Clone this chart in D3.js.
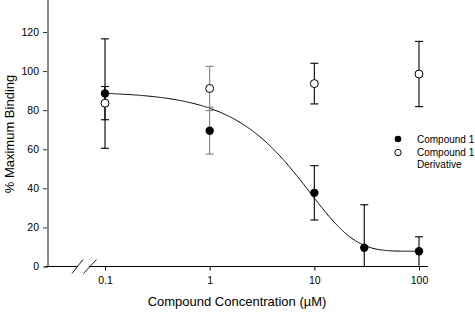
<!DOCTYPE html>
<html><head><meta charset="utf-8">
<script src="https://cdn.jsdelivr.net/npm/d3@7"></script>
<style>body{margin:0;background:#fff}svg{display:block}text{font-family:"Liberation Sans",Arial,sans-serif;fill:#000}</style>
</head><body>
<svg id="c" width="475" height="312"></svg>
<script>
const concentrations = [0.1, 1, 10, 30, 100];
const xTicks = [0.1, 1, 10, 100];
const yTicks = [0, 20, 40, 60, 80, 100, 120];
const cmpd1Mean = [88.5, 69.5, 37.7, 9.6, 7.8];
const cmpd1Err  = [28, 12, 13.9, 22, 7.4];
const derivConc = [0.1, 1, 10, 100];
const derivMean = [83.6, 91.1, 93.6, 98.5];
const derivErr  = [8.5, 11.3, 10.4, 16.7];
// exponential decay fit for Compound 1: bottom + span*exp(-k x)
const fitBottom = 7.8, fitSpan = 81.7, fitK = 0.11;
const seriesNames = ["Compound 1", "Compound 1\nDerivative"];

const svg = d3.select("#c");
const x = d3.scaleLog().domain([0.1, 100]).range([105, 419]);
const y = d3.scaleLinear().domain([0, 120]).range([266.5, 32]);
const y0 = y(0);

// y axis
const yAxis = d3.axisLeft(y).tickValues(yTicks).tickSize(5).tickPadding(4).tickFormat(d3.format("d"));
const gy = svg.append("g").attr("transform", "translate(48,0)").call(yAxis);
gy.select(".domain").remove();
gy.selectAll(".tick line").attr("stroke", "#333");
gy.selectAll("text").style("font-size", "10.5px").style("font-family", '"Liberation Sans",Arial,sans-serif');
svg.append("line").attr("x1", 48).attr("x2", 48).attr("y1", 0).attr("y2", y0)
  .attr("stroke", "#8a8a8a").attr("stroke-width", 2);

// x axis
const xAxis = d3.axisBottom(x).tickValues(xTicks).tickSize(4).tickPadding(6).tickFormat(d => String(d));
const gx = svg.append("g").attr("transform", `translate(0,${y0})`).call(xAxis);
gx.select(".domain").remove();
gx.selectAll("text").style("font-size", "10.5px").style("font-family", '"Liberation Sans",Arial,sans-serif');
svg.append("line").attr("x1", 45).attr("x2", 77).attr("y1", y0).attr("y2", y0).attr("stroke", "#000");
svg.append("line").attr("x1", 89).attr("x2", 428).attr("y1", y0).attr("y2", y0).attr("stroke", "#000");
// break marks
[[72, 83], [83.5, 96.5]].forEach(([a, b]) => {
  svg.append("line").attr("x1", a).attr("y1", y0 + 7).attr("x2", b).attr("y2", y0 - 7)
    .attr("stroke", "#000").attr("stroke-width", 0.9);
});

// fit curve
const curveX = d3.range(0, 301).map(i => Math.pow(10, -1 + i / 100));
const line = d3.line().x(d => x(d)).y(d => y(fitBottom + fitSpan * Math.exp(-fitK * d))).curve(d3.curveLinear);
svg.append("path").datum(curveX).attr("d", line).attr("fill", "none").attr("stroke", "#000").attr("stroke-width", 1);

function errBars(cs, ms, es) {
  cs.forEach((c, i) => {
    const col = c === 1 ? "#808080" : "#000";
    const cx = x(c), top = y(ms[i] + es[i]), bot = Math.min(y(Math.max(ms[i] - es[i], 0)), y0);
    const g = svg.append("g").attr("stroke", col).attr("stroke-width", 1.1);
    g.append("line").attr("x1", cx).attr("x2", cx).attr("y1", top).attr("y2", bot);
    g.append("line").attr("x1", cx - 4).attr("x2", cx + 4).attr("y1", top).attr("y2", top);
    if (ms[i] - es[i] > 0.8) g.append("line").attr("x1", cx - 4).attr("x2", cx + 4).attr("y1", bot).attr("y2", bot);
  });
}
errBars(derivConc, derivMean, derivErr);
errBars(concentrations, cmpd1Mean, cmpd1Err);

svg.append("g").selectAll("circle").data(derivConc).join("circle")
  .attr("cx", d => x(d)).attr("cy", (d, i) => y(derivMean[i])).attr("r", 4)
  .attr("fill", "#fff").attr("stroke", "#000").attr("stroke-width", 1);
svg.append("g").selectAll("circle").data(concentrations).join("circle")
  .attr("cx", d => x(d)).attr("cy", (d, i) => y(cmpd1Mean[i])).attr("r", 4.2)
  .attr("fill", "#000");

// legend
svg.append("circle").attr("cx", 398).attr("cy", 139).attr("r", 3.3).attr("fill", "#000");
svg.append("circle").attr("cx", 398).attr("cy", 152.5).attr("r", 3.2).attr("fill", "#fff").attr("stroke", "#000");
const lg = svg.append("g").style("font-size", "10px");
lg.append("text").attr("x", 417).attr("y", 142.5).text(seriesNames[0]);
const parts = seriesNames[1].split("\n");
lg.append("text").attr("x", 417).attr("y", 156).text(parts[0]);
lg.append("text").attr("x", 417).attr("y", 168).text(parts[1]);

// titles
svg.append("text").attr("x", 237).attr("y", 306).attr("text-anchor", "middle").style("font-size", "13px")
  .text("Compound Concentration (\u00b5M)");
svg.append("text").attr("transform", "translate(14,134) rotate(-90)").attr("text-anchor", "middle").style("font-size", "13px")
  .text("% Maximum Binding");
</script>
</body></html>
